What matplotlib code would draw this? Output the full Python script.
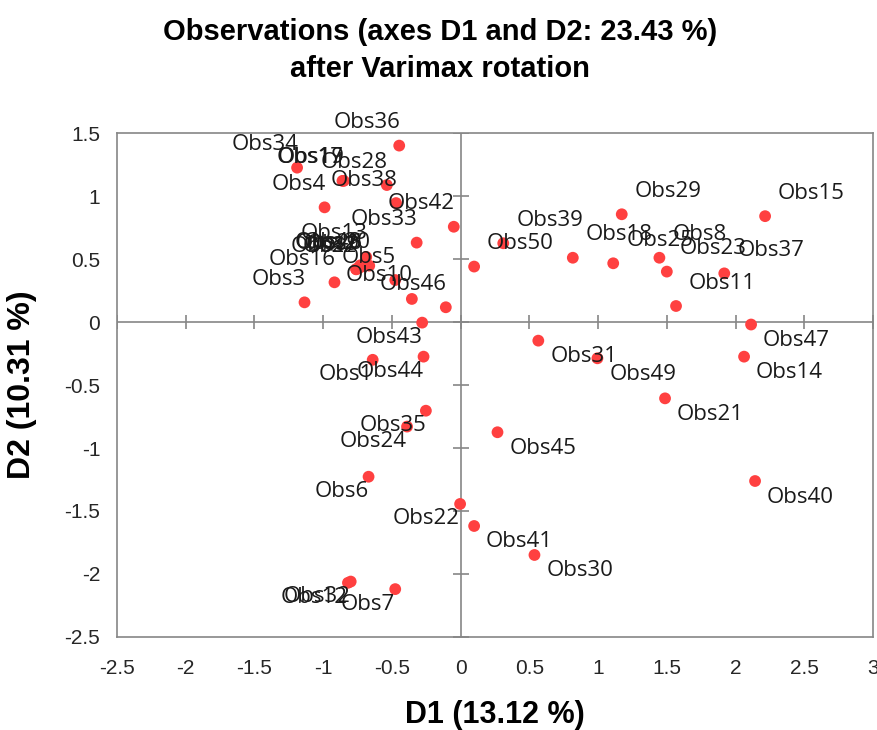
import matplotlib
matplotlib.use("Agg")
import matplotlib.pyplot as plt
from matplotlib import font_manager

# fuentes: narrow si existe, si no la normal
nombres = set(f.name for f in font_manager.fontManager.ttflist)
narrow = 'Liberation Sans Narrow' if 'Liberation Sans Narrow' in nombres else 'Liberation Sans'

###############################################################
# coordenadas de las observaciones
obs = ['Obs%d' % i for i in range(1, 51)]
d1 = [-0.64, -0.76, -1.136, -0.99, -0.476, -0.67, -0.476, 1.446, -0.74, -0.355,
      1.567, -0.82, -0.687, 2.062, 2.215, -0.918, -0.86, 0.816, -0.85, -0.665,
      1.487, -0.004, 1.50, -0.39, 1.11, -0.72, -0.76, -0.537, 1.172, 0.537,
      0.565, -0.80, -0.32, -1.19, -0.253, -0.447, 1.918, -0.47, 0.31, 2.142,
      0.098, -0.05, -0.28, -0.27, 0.268, -0.108, 2.113, -0.73, 0.995, 0.098]
d2 = [-0.30, 0.42, 0.156, 0.91, 0.333, -1.228, -2.12, 0.51, 0.43, 0.183,
      0.127, -2.07, 0.516, -0.275, 0.84, 0.315, 1.12, 0.51, 1.12, 0.447,
      -0.606, -1.444, 0.40, -0.83, 0.466, 0.44, 0.418, 1.087, 0.855, -1.849,
      -0.148, -2.06, 0.63, 1.225, -0.704, 1.40, 0.386, 0.944, 0.625, -1.262,
      -1.619, 0.756, -0.005, -0.275, -0.875, 0.117, -0.02, 0.45, -0.288, 0.44]
# lado de la etiqueta: UL arriba-izq, UR arriba-der, LL abajo-izq, LR abajo-der
lado = ['LL', 'UL', 'UL', 'UL', 'UL', 'LL', 'LL', 'UR', 'UL', 'UL',
        'UR', 'LL', 'UL', 'LR', 'UR', 'UL', 'UL', 'UR', 'UL', 'UL',
        'LR', 'LL', 'UR', 'LL', 'UR', 'UL', 'UL', 'UL', 'UR', 'LR',
        'LR', 'LL', 'UL', 'UL', 'LL', 'UL', 'UR', 'UL', 'UR', 'LR',
        'LR', 'UL', 'LL', 'LL', 'LR', 'UL', 'LR', 'UL', 'LR', 'UR']

xticks = [-2.5, -2, -1.5, -1, -0.5, 0, 0.5, 1, 1.5, 2, 2.5, 3]
yticks = [-2.5, -2, -1.5, -1, -0.5, 0, 0.5, 1, 1.5]

gris = '#868686'
rojo = '#ff4040'

fig = plt.figure(figsize=(8.78, 7.30), dpi=100)
ax = fig.add_axes([0.1333, 0.1274, 0.861, 0.6904])

# ejes que cruzan en el origen con marcas en cruz
ax.axhline(0, color=gris, lw=1.2, zorder=1)
ax.axvline(0, color=gris, lw=1.2, zorder=1)
ax.plot(xticks, [0] * len(xticks), ls='none', marker='|', ms=10, mew=1.2, color=gris, zorder=1)
ax.plot([0] * len(yticks), yticks, ls='none', marker='_', ms=12, mew=1.2, color=gris, zorder=1)

# puntos
ax.scatter(d1, d2, s=72, color=rojo, edgecolors='none', zorder=3)

offs = {'UL': (1, 23, 'right'), 'UR': (13, 23, 'left'),
        'LL': (0, -15, 'right'), 'LR': (12, -16, 'left')}
for i in range(len(obs)):
    dx, dy, ha = offs[lado[i]]
    ax.annotate(obs[i], (d1[i], d2[i]), xytext=(dx, dy), textcoords='offset pixels',
                ha=ha, va='center', fontsize=16, family='Open Sans', color='#1a1a1a', zorder=4)

ax.set_xlim(-2.5, 3)
ax.set_ylim(-2.5, 1.5)
ax.set_xticks(xticks)
ax.set_yticks(yticks)
ax.set_xticklabels(['%g' % t for t in xticks], family=narrow, fontsize=15, color='#262626')
ax.set_yticklabels(['%g' % t for t in yticks], family=narrow, fontsize=15, color='#262626')
ax.tick_params(axis='x', length=0, pad=16)
ax.tick_params(axis='y', length=0, pad=12)
for s in ax.spines.values():
    s.set_color(gris)
    s.set_linewidth(1.2)

ax.set_xlabel('D1 (13.12 %)', family=narrow, fontsize=22, fontweight='bold', va='center')
ax.xaxis.set_label_coords(0.5, -0.155)
ax.set_ylabel('D2 (10.31 %)', family='Liberation Sans', fontsize=23, fontweight='bold', va='center')
ax.yaxis.set_label_coords(-0.1257, 0.5)

fig.text(0.501, 0.956, 'Observations (axes D1 and D2: 23.43 %)', ha='center', va='center',
         family=narrow, fontsize=21, fontweight='bold')
fig.text(0.501, 0.905, 'after Varimax rotation', ha='center', va='center',
         family=narrow, fontsize=21, fontweight='bold')

fig.savefig('out.png', dpi=100)
